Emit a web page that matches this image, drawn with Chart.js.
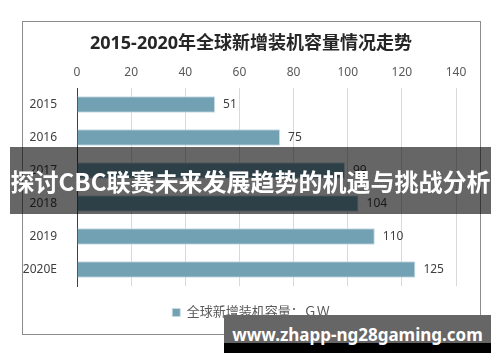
<!DOCTYPE html>
<html>
<head>
<meta charset="utf-8">
<script src="https://cdn.jsdelivr.net/npm/chart.js@4"></script>
<style>
  html, body { margin: 0; padding: 0; background: #fff; }
  #wrap { position: relative; width: 500px; height: 362px; overflow: hidden; }
  #banner {
    position: absolute; left: 10px; top: 147px; width: 481px; height: 67px;
    background: rgba(0,0,0,0.6); color: #fff;
    font: bold 24px "Noto Sans CJK SC", sans-serif;
    display: flex; align-items: center; justify-content: center; white-space: nowrap;
  }
  #mark {
    position: absolute; left: 224px; top: 315px; width: 267px; height: 38px;
    background: linear-gradient(#666 0, #666 28px, #000 28px);
    color: #fff; font: bold 17px "Noto Sans", sans-serif;
    display: flex; align-items: center; justify-content: center; white-space: nowrap;
  }
</style>
</head>
<body>
<div id="wrap">
  <canvas id="chart" width="500" height="362"></canvas>
  <div id="banner">探讨CBC联赛未来发展趋势的机遇与挑战分析</div>
  <div id="mark">www.zhapp-ng28gaming.com</div>
</div>
<script>
const years = ['2015', '2016', '2017', '2018', '2019', '2020E'];
const capacity = [51, 75, 99, 104, 110, 125];
const xTicks = [0, 20, 40, 60, 80, 100, 120, 140];

const FONT = '"Noto Sans", "Noto Sans CJK SC", sans-serif';

// 외곽 테두리 + 막대 값 라벨
const framePlugin = {
  id: 'frame',
  beforeDraw(chart) {
    const ctx = chart.ctx;
    ctx.save();
    ctx.strokeStyle = '#8c8c8c';
    ctx.lineWidth = 1;
    ctx.strokeRect(22.5, 21.5, 458, 313);
    ctx.restore();
  },
  afterDatasetsDraw(chart) {
    const ctx = chart.ctx;
    const meta = chart.getDatasetMeta(0);
    ctx.save();
    ctx.font = '12px ' + FONT;
    ctx.fillStyle = '#404040';
    ctx.textBaseline = 'middle';
    meta.data.forEach((bar, i) => {
      ctx.fillText(String(capacity[i]), bar.x + 8, bar.y);
    });
    ctx.restore();
  }
};

new Chart(document.getElementById('chart'), {
  type: 'bar',
  data: {
    labels: years,
    datasets: [{
      label: '全球新增装机容量：ＧＷ',
      data: capacity,
      backgroundColor: '#72a1b4',
      borderColor: '#c8dbe3',
      borderWidth: 1,
      barPercentage: 0.5,
      categoryPercentage: 1
    }]
  },
  options: {
    indexAxis: 'y',
    responsive: false,
    animation: false,
    layout: { padding: { left: 22, right: 20, top: 21, bottom: 33 } },
    plugins: {
      title: {
        display: true,
        text: '2015-2020年全球新增装机容量情况走势',
        color: '#262626',
        font: { family: FONT, size: 18, weight: 'bold', lineHeight: 1.2 },
        padding: { top: 12, bottom: 6 }
      },
      legend: {
        position: 'bottom',
        labels: {
          color: '#595959',
          font: { family: FONT, size: 13 },
          boxWidth: 8,
          boxHeight: 8,
          padding: 20
        }
      },
      tooltip: { enabled: false }
    },
    scales: {
      x: {
        position: 'top',
        min: 0,
        max: 140,
        afterBuildTicks: (scale) => { scale.ticks = xTicks.map(v => ({ value: v })); },
        afterFit: (scale) => { scale.height = 27.4; },
        grid: { color: '#d9d9d9', drawTicks: false },
        border: { display: false },
        ticks: { color: '#595959', font: { family: FONT, size: 12 }, padding: 8 }
      },
      y: {
        afterFit: (scale) => { scale.width = 55; },
        grid: { display: false },
        border: { display: true, color: '#404040', width: 1 },
        ticks: { color: '#404040', font: { family: FONT, size: 12 }, padding: 12 }
      },
      // 오른쪽 여백용 빈 축
      yRight: {
        type: 'category',
        position: 'right',
        afterFit: (scale) => { scale.width = 24; },
        grid: { display: false },
        border: { display: false },
        ticks: { display: false }
      }
    }
  },
  plugins: [framePlugin]
});
</script>
</body>
</html>
